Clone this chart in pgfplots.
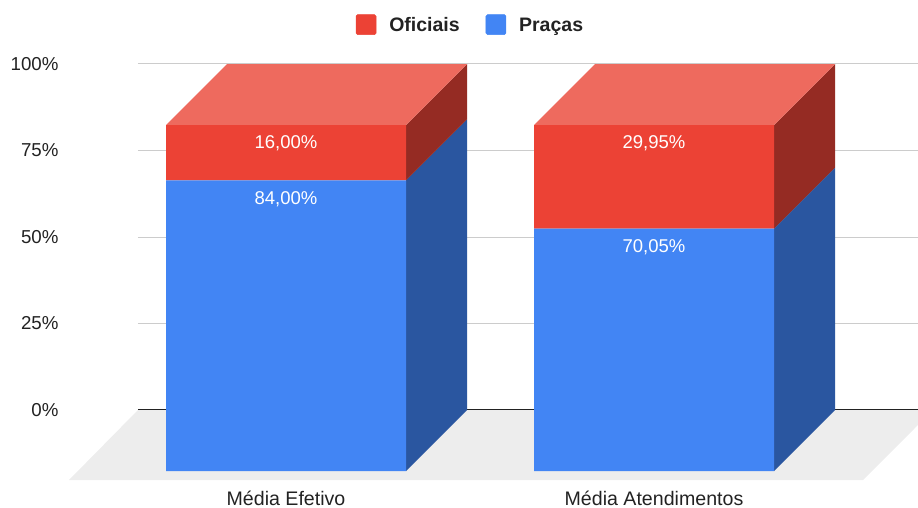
\documentclass[border=0pt]{standalone}
\usepackage{pgfplots}
\pgfplotsset{compat=1.18}
\usepackage{fontspec}
\setmainfont{Liberation Sans}
\definecolor{redfront}{HTML}{EC4235}
\definecolor{redtop}{HTML}{EE6A5E}
\definecolor{redside}{HTML}{952B23}
\definecolor{bluefront}{HTML}{4285F4}
\definecolor{blueside}{HTML}{2A56A0}
\definecolor{floorgray}{HTML}{EDEDED}
\definecolor{gridgray}{HTML}{CCCCCC}
\definecolor{textgray}{HTML}{222222}
% 1pt = 1 reference pixel; front plane: 0% at y=471, 100% at y=125
% depth of the boxes: 61 px to the right, 61 px (17.63%) up
\pgfplotsset{
  frontplane/.style={
    anchor=south west, at={(0pt,36pt)},
    scale only axis, width=918pt, height=346pt,
    xmin=0, xmax=918, ymin=0, ymax=100,
    clip=false,
  },
  legendbox/.style={legend image code/.code={
    \fill[#1, rounded corners=1.5pt] (0pt,-8pt) rectangle (20pt,12pt);}},
}
\begin{document}
\begin{tikzpicture}[x=1pt,y=1pt]
\useasboundingbox (0,0) rectangle (918,507);
% back wall with the grid and the percent scale
\begin{axis}[
  anchor=south west, at={(138pt,97pt)},
  scale only axis, width=780pt, height=346pt,
  xmin=0, xmax=780, ymin=0, ymax=100,
  axis x line*=bottom, axis y line*=left,
  x axis line style={draw=textgray, line width=1.2pt, -},
  y axis line style={draw=none},
  xtick=\empty,
  ytick={0,25,50,75,100},
  yticklabel={\pgfmathprintnumber{\tick}\%},
  /pgf/number format/assume math mode=true,
  yticklabel style={font=\fontsize{18.7}{20}\selectfont, text=textgray, anchor=east, xshift=-76pt},
  major tick length=0pt,
  ymajorgrids, grid style={gridgray, line width=1pt},
]
\end{axis}
% floor and the side and top faces of the boxes
\begin{axis}[frontplane, hide axis]
\addplot[fill=floorgray, draw=none] coordinates {(138,17.63) (69,-2.6) (863,-2.6) (918,13.3) (918,17.63)} -- cycle;
% Média Efetivo
\addplot[fill=blueside, draw=none] coordinates {(406,0) (467,17.63) (467,101.63) (406,84)} -- cycle;
\addplot[fill=redside, draw=none] coordinates {(406,84) (467,101.63) (467,117.63) (406,100)} -- cycle;
\addplot[fill=redtop, draw=none] coordinates {(166,100) (227,117.63) (467,117.63) (406,100)} -- cycle;
% Média Atendimentos
\addplot[fill=blueside, draw=none] coordinates {(774,0) (835,17.63) (835,87.68) (774,70.05)} -- cycle;
\addplot[fill=redside, draw=none] coordinates {(774,70.05) (835,87.68) (835,117.63) (774,100)} -- cycle;
\addplot[fill=redtop, draw=none] coordinates {(534,100) (595,117.63) (835,117.63) (774,100)} -- cycle;
\end{axis}
% front faces
\begin{axis}[frontplane,
  ybar stacked, bar width=240,
  axis x line*=bottom, axis y line=none,
  x axis line style={draw=none},
  xtick={286,654},
  xticklabels={Média Efetivo,Média Atendimentos},
  xticklabel style={font=\fontsize{19.6}{20}\selectfont, text=textgray, inner sep=0pt, yshift=-20pt},
  major tick length=0pt,
  nodes near coords,
  point meta=explicit symbolic,
  visualization depends on=rawy \as \rawy,
  % the label sits just below the top of its own segment
  nodes near coords style={font=\fontsize{18.5}{20}\selectfont, text=white, anchor=center,
    yshift={\rawy*1.73pt-18.5pt}},
  legend style={at={(axis cs:470.5,128.6)}, anchor=center, draw=none, fill=none,
    legend columns=2, font=\bfseries\fontsize{19.5}{20}\selectfont, text=textgray,
    nodes={text depth=4pt, text height=14pt},
    /tikz/every odd column/.append style={column sep=11pt},
    /tikz/every even column/.append style={column sep=24pt}},
]
\addlegendimage{legendbox=redfront}\addlegendentry{Oficiais}
\addlegendimage{legendbox=bluefront}\addlegendentry{Praças}
\addplot[forget plot, fill=bluefront, draw=none] coordinates {(286,84) [84,00\%] (654,70.05) [70,05\%]};
\addplot[forget plot, fill=redfront, draw=none] coordinates {(286,16) [16,00\%] (654,29.95) [29,95\%]};
\end{axis}
\end{tikzpicture}
\end{document}
